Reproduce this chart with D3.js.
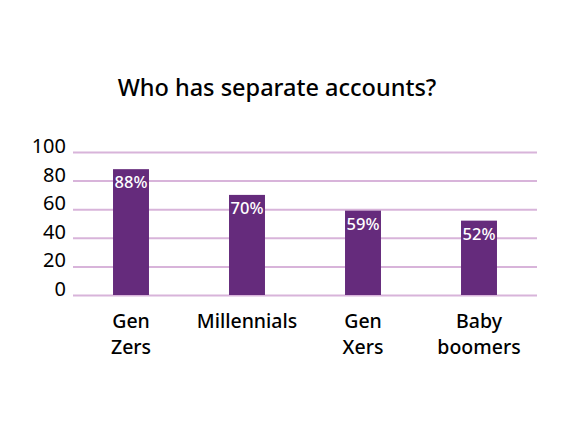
<!DOCTYPE html>
<html>
<head>
<meta charset="utf-8">
<script src="https://cdn.jsdelivr.net/npm/d3@7"></script>
<style>
  body { margin: 0; background: #fff; }
  text { font-family: "Noto Sans", sans-serif; }
</style>
</head>
<body>
<div id="content"></div>
<script>
var categories = ["Gen Zers", "Millennials", "Gen Xers", "Baby boomers"];
var shares = [88, 70, 59, 52];
var yTicks = [0, 20, 40, 60, 80, 100];
var title = "Who has separate accounts?";

var width = 565, height = 432;
var plot = {left: 73, right: 537, top: 152, bottom: 295};

var svg = d3.select("#content")
            .append("svg")
            .attr("width", width)
            .attr("height", height);

svg.append("text")
   .attr("x", 277)
   .attr("y", 96)
   .attr("text-anchor", "middle")
   .attr("font-size", 23.5)
   .attr("font-weight", 500)
   .attr("fill", "#000")
   .text(title);

var scaleX = d3.scaleBand()
               .domain(categories)
               .range([plot.left, plot.right])
               .paddingInner(0.69)
               .paddingOuter(0.345);

var scaleY = d3.scaleLinear()
               .domain([0, 100])
               .range([plot.bottom, plot.top]);

// gridlines + tick labels
var axisY = d3.axisLeft(scaleY)
              .tickValues(yTicks)
              .tickSize(-(plot.right - plot.left))
              .tickPadding(7);

var axisYG = svg.append("g")
                .attr("transform", "translate(" + plot.left + ",0)")
                .call(axisY);
axisYG.select(".domain").remove();
axisYG.selectAll(".tick line")
      .attr("stroke", "#d8b4da")
      .attr("stroke-width", 2);
axisYG.selectAll(".tick text")
      .attr("font-size", 20)
      .attr("fill", "#000")
      .attr("dy", "0.02em")
      .attr("font-family", "'Noto Sans', sans-serif");

var bars = svg.append("g")
              .selectAll("rect")
              .data(shares)
              .enter()
              .append("rect")
              .attr("x", function(d, i) { return scaleX(categories[i]); })
              .attr("y", function(d) { return scaleY(d); })
              .attr("width", scaleX.bandwidth())
              .attr("height", function(d) { return plot.bottom - scaleY(d); })
              .attr("fill", "#652b7c");

svg.append("g")
   .selectAll("text")
   .data(shares)
   .enter()
   .append("text")
   .attr("x", function(d, i) { return scaleX(categories[i]) + scaleX.bandwidth() / 2; })
   .attr("y", function(d) { return scaleY(d) + 19; })
   .attr("text-anchor", "middle")
   .attr("font-size", 16.5)
   .attr("font-weight", 500)
   .attr("fill", "#fff")
   .text(function(d) { return d + "%"; });

// category labels, one word per line
var labels = svg.append("g")
                .selectAll("text")
                .data(categories)
                .enter()
                .append("text")
                .attr("text-anchor", "middle")
                .attr("font-size", 19.5)
                .attr("font-weight", 500)
                .attr("fill", "#000")
                .attr("transform", function(d) {
                  return "translate(" + (scaleX(d) + scaleX.bandwidth() / 2) + ",328)";
                });
labels.selectAll("tspan")
      .data(function(d) { return d.split(" "); })
      .enter()
      .append("tspan")
      .attr("x", 0)
      .attr("y", function(d, i) { return i * 26; })
      .text(function(d) { return d; });
</script>
</body>
</html>
